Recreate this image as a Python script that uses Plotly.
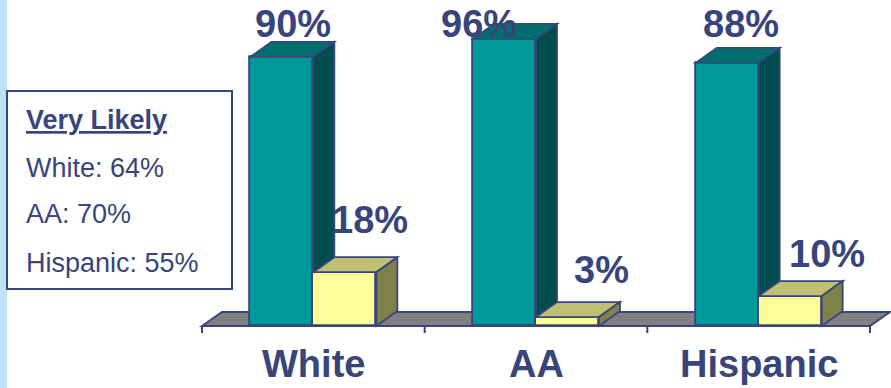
import plotly.graph_objects as go

# ---- data ----
groups = ["White", "AA", "Hispanic"]
somewhat_or_very = [90, 96, 88]      # tall teal bars
not_likely = [18, 3, 10]             # short yellow bars
very_likely = [64, 70, 55]           # listed in the side box
box_title = "Very Likely"

# ---- page geometry (pixels) ----
W, H = 891, 388
FLOOR_LEFT_PX, FLOOR_RIGHT_PX = 202, 870   # front edge of the floor (x = -0.5 .. 2.5)
BASE_PX = 326                              # y = 0 on screen
PX_PER_PCT = 2.99
BAR_W_PX = 63
DEPTH_DX_PX, DEPTH_DY_PX = 21, 15           # oblique depth of the boxes
FLOOR_DX_PX, FLOOR_DY_PX = 20, 14
TICK_PX = 7
LW = 1.8

ppu = (FLOOR_RIGHT_PX - FLOOR_LEFT_PX) / 3.0
x_range = [-0.5 - FLOOR_LEFT_PX / ppu, -0.5 + (W - FLOOR_LEFT_PX) / ppu]
y_range = [-(H - BASE_PX) / PX_PER_PCT, BASE_PX / PX_PER_PCT]

bw = BAR_W_PX / ppu
ddx, ddy = DEPTH_DX_PX / ppu, DEPTH_DY_PX / PX_PER_PCT
fdx, fdy = FLOOR_DX_PX / ppu, FLOOR_DY_PX / PX_PER_PCT

# ---- colours ----
NAVY = "#38457A"
TEAL = ("#009999", "#006E6C", "#004D4D")      # front, top, side
YELLOW = ("#FFFF99", "#C0C072", "#80804A")
FLOOR = "#808080"
STRIP = "#BDE3F7"
FONT = "Arial, Liberation Sans, sans-serif"

centers = list(range(len(groups)))

fig = go.Figure()

# front faces of the boxes
fig.add_trace(go.Bar(
    x=[c - bw / 2 for c in centers], y=somewhat_or_very, width=bw,
    marker=dict(color=TEAL[0], line=dict(color=NAVY, width=LW)),
    hoverinfo="skip", showlegend=False))
fig.add_trace(go.Bar(
    x=[c + bw / 2 for c in centers], y=not_likely, width=bw,
    marker=dict(color=YELLOW[0], line=dict(color=NAVY, width=LW)),
    hoverinfo="skip", showlegend=False))


def poly(pts):
    return "M " + " L ".join(f"{x:.5f},{y:.5f}" for x, y in pts) + " Z"


shapes = []
# floor slab
shapes.append(dict(
    type="path", layer="below", xref="x", yref="y",
    path=poly([(-0.5, 0), (-0.5 + fdx, fdy), (2.5 + fdx, fdy), (2.5, 0)]),
    fillcolor=FLOOR, line=dict(color=NAVY, width=2)))
# category ticks under the floor edge
for t in [-0.5, 0.5, 1.5, 2.5]:
    shapes.append(dict(type="line", xref="x", yref="y", x0=t, x1=t,
                       y0=0, y1=-TICK_PX / PX_PER_PCT,
                       line=dict(color=NAVY, width=2)))

# tops and sides of the boxes
for c, hi, lo in zip(centers, somewhat_or_very, not_likely):
    x0, x1, x2 = c - bw, c, c + bw
    shapes.append(dict(type="path", xref="x", yref="y", layer="above",
                       path=poly([(x0, hi), (x0 + ddx, hi + ddy), (x1 + ddx, hi + ddy), (x1, hi)]),
                       fillcolor=TEAL[1], line=dict(color=NAVY, width=LW)))
    # side of the tall box, visible above the short box
    shapes.append(dict(type="path", xref="x", yref="y", layer="above",
                       path=poly([(x1, hi), (x1 + ddx, hi + ddy), (x1 + ddx, lo + ddy), (x1, lo)]),
                       fillcolor=TEAL[2], line=dict(color=NAVY, width=LW)))
    shapes.append(dict(type="path", xref="x", yref="y", layer="above",
                       path=poly([(x1, lo), (x1 + ddx, lo + ddy), (x2 + ddx, lo + ddy), (x2, lo)]),
                       fillcolor=YELLOW[1], line=dict(color=NAVY, width=LW)))
    shapes.append(dict(type="path", xref="x", yref="y", layer="above",
                       path=poly([(x2, 0), (x2 + ddx, ddy), (x2 + ddx, lo + ddy), (x2, lo)]),
                       fillcolor=YELLOW[2], line=dict(color=NAVY, width=LW)))

# light blue strip at the left edge and the side box
shapes.append(dict(type="rect", xref="paper", yref="paper", layer="above",
                   x0=0, x1=7 / W, y0=0, y1=1, fillcolor=STRIP, line=dict(width=0)))
shapes.append(dict(type="rect", xref="paper", yref="paper", layer="above",
                   x0=7 / W, x1=232 / W, y0=1 - 289 / H, y1=1 - 91 / H,
                   fillcolor="white", line=dict(color=NAVY, width=2)))

annotations = []
VAL_FS, CAT_FS, BOX_FS = 38, 38, 27


def py(px_from_top):
    return 1 - px_from_top / H


# value labels on the tall boxes (all on one line near the top)
tall_dx = [-20, -57, -18]
for c, v, dx in zip(centers, somewhat_or_very, tall_dx):
    annotations.append(dict(x=c, xref="x", y=py(37 - 0.35 * VAL_FS), yref="paper",
                            text=f"<b>{v}%</b>", showarrow=False, xshift=dx,
                            xanchor="center", yanchor="middle",
                            font=dict(family=FONT, size=VAL_FS, color=NAVY)))
# value labels above the short boxes
short_dx = [57, 65, 68]
short_dy = [52, 47, 42]
for c, v, dx, dy in zip(centers, not_likely, short_dx, short_dy):
    annotations.append(dict(x=c, xref="x", y=v, yref="y",
                            text=f"<b>{v}%</b>", showarrow=False, xshift=dx, yshift=dy,
                            xanchor="center", yanchor="middle",
                            font=dict(family=FONT, size=VAL_FS, color=NAVY)))
# category names
for c, g in zip(centers, groups):
    annotations.append(dict(x=c, xref="x", y=py(377 - 0.35 * CAT_FS), yref="paper",
                            text=f"<b>{g}</b>", showarrow=False,
                            xanchor="center", yanchor="middle",
                            font=dict(family=FONT, size=CAT_FS, color=NAVY)))
# side box text
box_lines = [f"<b><u>{box_title}</u></b>"] + [f"{g}: {v}%" for g, v in zip(groups, very_likely)]
box_baselines = [129, 177, 223, 272]
for t, b in zip(box_lines, box_baselines):
    annotations.append(dict(x=27 / W, xref="paper", y=py(b - 0.35 * BOX_FS), yref="paper",
                            text=t, showarrow=False, xanchor="left", yanchor="middle",
                            xshift=-3,
                            font=dict(family=FONT, size=BOX_FS, color=NAVY)))

fig.update_layout(
    width=W, height=H,
    margin=dict(l=0, r=0, t=0, b=0),
    paper_bgcolor="white", plot_bgcolor="white",
    barmode="overlay", bargap=0,
    xaxis=dict(range=x_range, visible=False, fixedrange=True),
    yaxis=dict(range=y_range, visible=False, fixedrange=True),
    shapes=shapes, annotations=annotations,
    showlegend=False,
)

fig.write_html("out.html", config={"displayModeBar": False})
